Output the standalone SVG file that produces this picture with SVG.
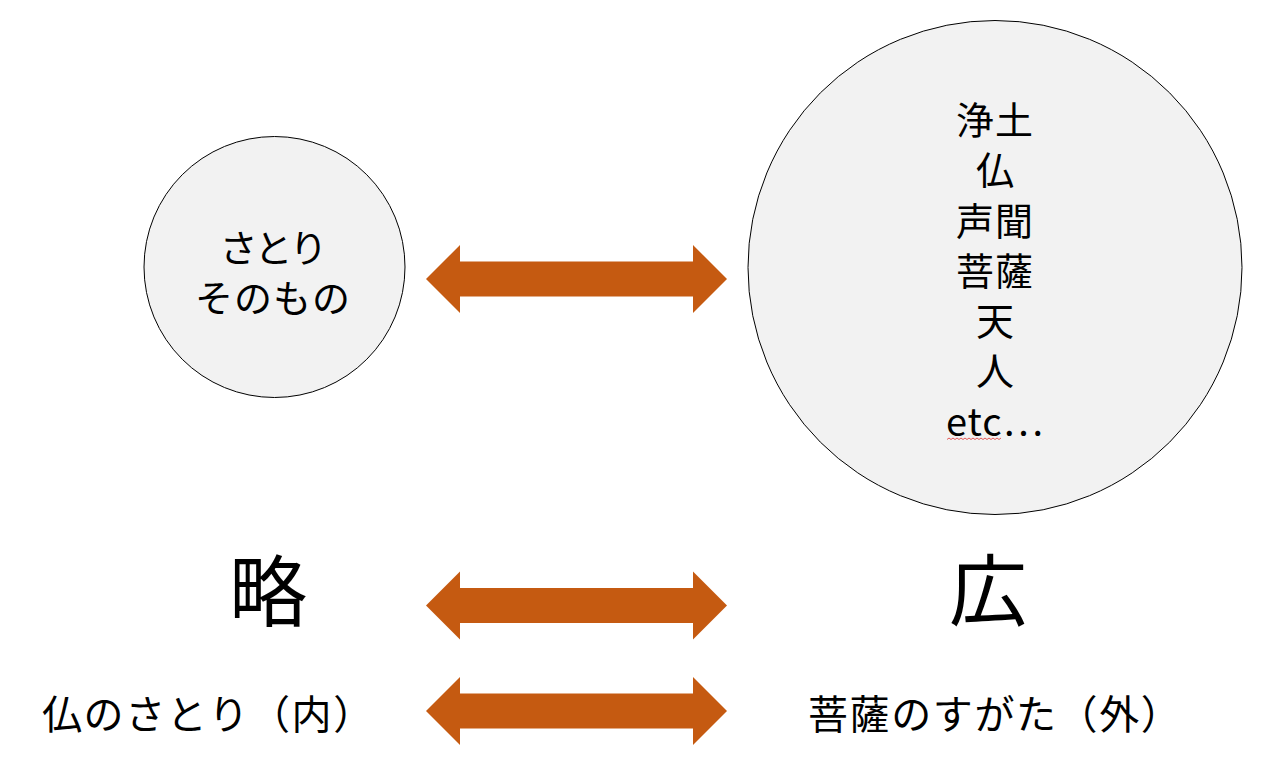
<svg xmlns="http://www.w3.org/2000/svg" width="1285" height="763" viewBox="0 0 1285 763">
<style>
.circ{fill:#F2F2F2;stroke:#000;stroke-width:1}
.t{font-family:"Noto Sans CJK JP","Noto Sans CJK SC",sans-serif;fill:#000;text-anchor:middle}
.m{font-size:40px}
.s{font-size:38px}
.big{font-size:78px}
.arr{fill:#C55A11}
</style>
<defs>
<path id="dbl" d="M0,0 L34,-34 L34,-17.5 L267,-17.5 L267,-34 L301,0 L267,34 L267,17.5 L34,17.5 L34,34 Z"/>
</defs>
<rect width="1285" height="763" fill="#fff"/>
<g id="node-satori">
<circle class="circ" cx="274.5" cy="267" r="130.5"/>
<text class="t s" x="272" y="262" letter-spacing="-3">さとり</text>
<text class="t s" x="273" y="312" letter-spacing="1">そのもの</text>
</g>
<g id="node-pure-land">
<circle class="circ" cx="995" cy="267.5" r="247"/>
<text class="t s" x="995" y="134" letter-spacing="1">浄土</text>
<text class="t s" x="995" y="184">仏</text>
<text class="t s" x="995" y="235" letter-spacing="1">声聞</text>
<text class="t s" x="995" y="285" letter-spacing="1">菩薩</text>
<text class="t s" x="995" y="335">天</text>
<text class="t s" x="995" y="385">人</text>
<text class="t s" x="995" y="436" letter-spacing="1">etc…</text>
<path d="M947,439.5 l2,-1.5 l2,1.5 l2,-1.5 l2,1.5 l2,-1.5 l2,1.5 l2,-1.5 l2,1.5 l2,-1.5 l2,1.5 l2,-1.5 l2,1.5 l2,-1.5 l2,1.5 l2,-1.5 l2,1.5 l2,-1.5 l2,1.5 l2,-1.5 l2,1.5 l2,-1.5 l2,1.5 l2,-1.5 l2,1.5 l2,-1.5 l2,1.5 l2,-1.5" fill="none" stroke="#E03030" stroke-width="0.8"/>
</g>
<g id="node-ryaku">
<text class="t big" x="268" y="621">略</text>
</g>
<g id="node-kou">
<text class="t big" x="988" y="620">広</text>
</g>
<g id="node-inner">
<text class="t m" x="42" y="729" letter-spacing="1.6" style="text-anchor:start">仏のさとり（内）</text>
</g>
<g id="node-outer">
<text class="t m" x="808" y="729" letter-spacing="1.6" style="text-anchor:start">菩薩のすがた（外）</text>
</g>
<g id="connectors" class="arr">
<use href="#dbl" x="426" y="279"/>
<use href="#dbl" x="426" y="605.5"/>
<use href="#dbl" x="426" y="711"/>
</g>
</svg>
